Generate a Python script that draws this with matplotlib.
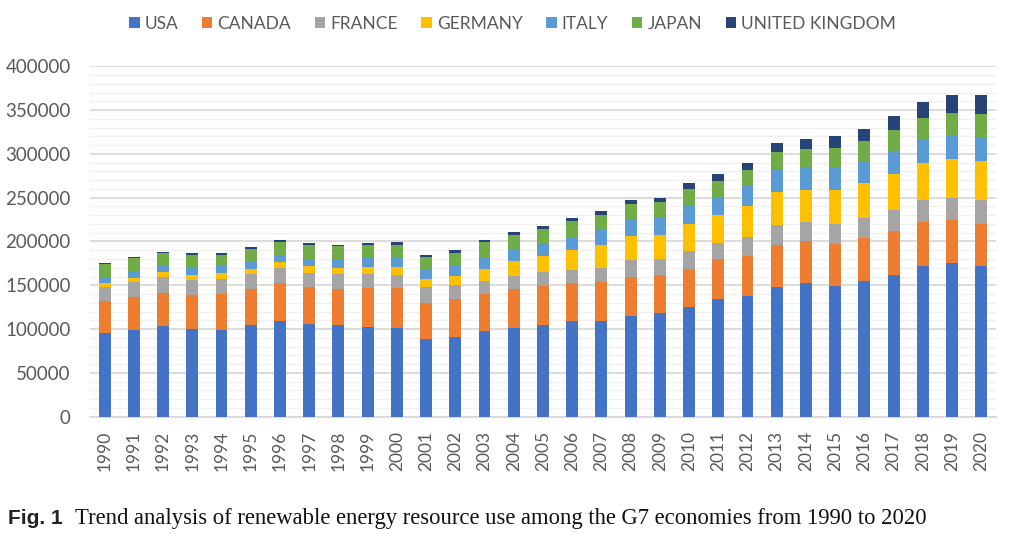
import matplotlib
matplotlib.use("Agg")
import matplotlib.pyplot as plt
import numpy as np
from matplotlib.ticker import MultipleLocator

years = [str(y) for y in range(1990, 2021)]
countries = ["USA", "CANADA", "FRANCE", "GERMANY", "ITALY", "JAPAN", "UNITED KINGDOM"]

usa = [96000, 99000, 103600, 100200, 99400, 104700, 109700, 106200, 105100, 102800,
       101700, 89100, 91000, 97500, 101700, 105100, 109700, 109300, 115400, 118000,
       125300, 134800, 138200, 148100, 152300, 149700, 154600, 162200, 172500, 175500,
       172500]
canada = [36100, 37700, 38100, 39200, 40700, 41500, 42600, 42300, 41100, 44600,
          44900, 41100, 43800, 42600, 43800, 44600, 42600, 44900, 44500, 43800,
          43000, 45300, 45700, 48000, 48400, 47600, 49900, 49900, 49500, 48800,
          48000]
france = [16000, 16800, 17900, 17100, 17200, 16800, 17500, 16000, 16400, 16000,
          15600, 17600, 15600, 14900, 15600, 15200, 15600, 16000, 19500, 18700,
          21000, 17900, 21000, 23200, 21300, 22400, 22800, 24400, 25900, 25900,
          26300]
germany = [4600, 4900, 5700, 5300, 6400, 6100, 6500, 7600, 7600, 7600,
           8800, 9100, 10700, 14100, 16400, 19000, 22900, 26300, 26600, 27000,
           30800, 32000, 35800, 37400, 36900, 39600, 39300, 41100, 41900, 43400,
           45300]
italy = [6900, 8000, 7600, 8000, 8400, 8000, 7600, 8000, 9200, 9900,
         10600, 10700, 11400, 12900, 12900, 13700, 14500, 17100, 19800, 21000,
         21700, 20900, 23200, 26200, 26300, 25500, 25500, 25900, 27000, 27400,
         27000]
japan = [14800, 15200, 14500, 14900, 12200, 14800, 15600, 16000, 15200, 15200,
         14900, 14400, 14900, 17900, 16800, 17200, 18200, 16800, 16800, 16700,
         18300, 18700, 17900, 18900, 20100, 21700, 22100, 24000, 24400, 25900,
         26700]
uk = [800, 800, 1100, 1900, 2300, 1900, 1900, 2300, 1900, 2300,
      3000, 2300, 3000, 1900, 3400, 3000, 3100, 4500, 4900, 5000,
      6500, 7200, 8000, 10300, 11400, 14100, 14400, 16000, 17900, 20200,
      21300]

series = [usa, canada, france, germany, italy, japan, uk]
colors = ["#4472C4", "#ED7D31", "#A5A5A5", "#FFC000", "#5B9BD5", "#70AD47", "#264478"]

plt.rcParams["font.family"] = ["Lato", "DejaVu Sans"]
text_grey = "#595959"

fig = plt.figure(figsize=(10.09, 5.35), dpi=100)
ax = fig.add_axes([0.0892, 0.2211, 0.8978, 0.6550])

x = np.arange(len(years))
bottom = np.zeros(len(years))
for name, vals, col in zip(countries, series, colors):
    ax.bar(x, vals, width=0.41, bottom=bottom, color=col, label=name, zorder=3)
    bottom += np.array(vals)

ax.set_xlim(-0.5, len(years) - 0.5)
ax.set_ylim(0, 400000)
ax.yaxis.set_major_locator(MultipleLocator(50000))
ax.yaxis.set_minor_locator(MultipleLocator(10000))
ax.grid(axis="y", which="major", color="#D9D9D9", linewidth=1.3, zorder=0)
ax.grid(axis="y", which="minor", color="#F0F0F0", linewidth=1.0, zorder=0)
ax.set_axisbelow(True)

for side in ["top", "right", "left"]:
    ax.spines[side].set_visible(False)
ax.spines["bottom"].set_color("#D9D9D9")
ax.spines["bottom"].set_linewidth(1.3)

ax.set_xticks(x)
ax.set_xticklabels(years, rotation=90)
ax.tick_params(axis="both", which="both", length=0, colors=text_grey)
ax.tick_params(axis="x", labelsize=12.5, pad=10)
ax.tick_params(axis="y", labelsize=13.5, pad=14)

fig.legend(loc="upper center", bbox_to_anchor=(0.508, 1.0), ncol=7, frameon=False,
           fontsize=12.5, handlelength=0.6, handleheight=0.6, handletextpad=0.3,
           columnspacing=1.35, labelcolor=text_grey)

fig.text(0.008, 0.02, "Fig. 1", family="Liberation Sans", weight="bold",
         fontsize=15, color="#222222")
fig.text(0.074, 0.02, "Trend analysis of renewable energy resource use among the G7 economies from 1990 to 2020",
         family="Liberation Serif", fontsize=16.3, color="#111111")

fig.savefig("out.png", dpi=100)
